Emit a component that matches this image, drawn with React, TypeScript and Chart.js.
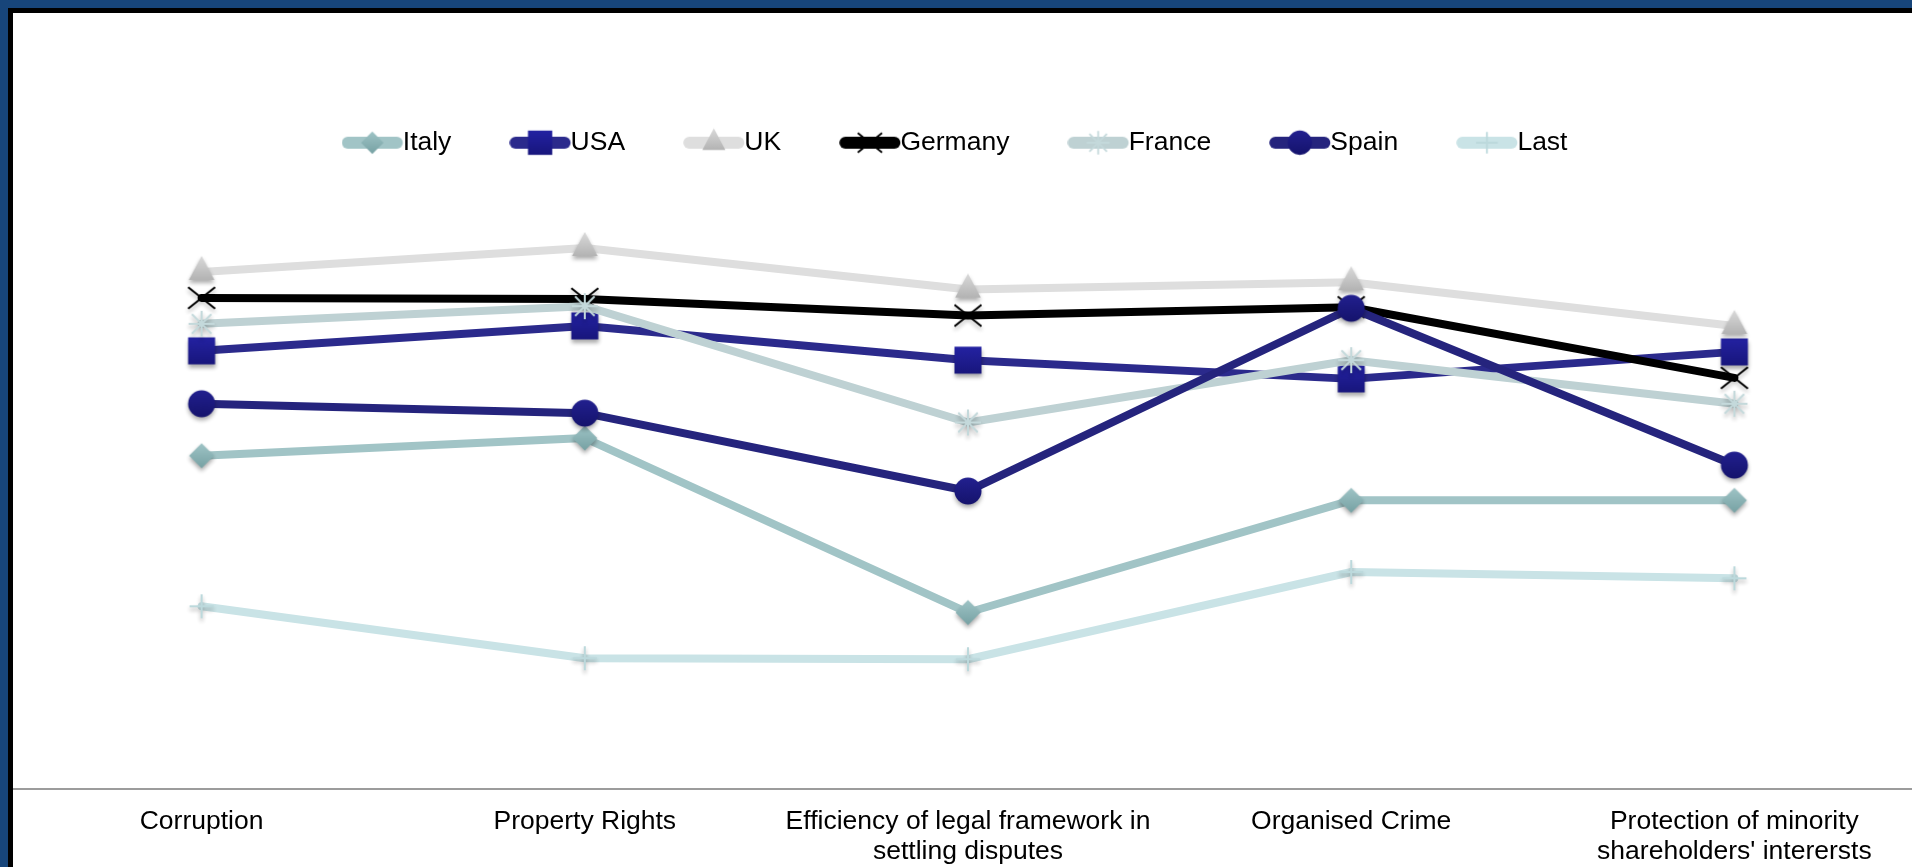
import React, { useEffect, useRef } from 'react';
import { Chart, registerables } from 'chart.js';

Chart.register(...registerables);

// ---------- data ----------
const categories: string[][] = [
  ['Corruption'],
  ['Property Rights'],
  ['Efficiency of legal framework in', 'settling disputes'],
  ['Organised Crime'],
  ['Protection of minority', "shareholders' interersts"],
];

const seriesNames = ['Italy', 'USA', 'UK', 'Germany', 'France', 'Spain', 'Last'];

const italy = [4.21, 4.38, 2.7, 3.78, 3.78];
const usa = [5.22, 5.46, 5.13, 4.95, 5.21];
const uk = [5.98, 6.21, 5.81, 5.88, 5.46];
const germany = [5.73, 5.72, 5.56, 5.64, 4.96];
const france = [5.48, 5.65, 4.53, 5.13, 4.71];
const spain = [4.71, 4.62, 3.87, 5.63, 4.12];
const last = [2.76, 2.26, 2.25, 3.09, 3.03];

const seriesValues = [italy, usa, uk, germany, france, spain, last];

const yMin = 1;
const yMax = 7;

// ---------- styles ----------
type Kind = 'diamond' | 'square' | 'triangle' | 'x' | 'star' | 'circle' | 'plus';

interface SeriesStyle {
  line: string;
  kind: Kind;
  size: number;
  fillTop: string;
  fillBottom: string;
  stroke: string;
}

const styles: SeriesStyle[] = [
  { line: '#a1c4c6', kind: 'diamond', size: 12.5, fillTop: '#9fc4c6', fillBottom: '#76a1a3', stroke: '#8db5b7' },
  { line: '#2b2a8c', kind: 'square', size: 13.5, fillTop: '#2422a2', fillBottom: '#18167c', stroke: '#1f1d8f' },
  { line: '#dedede', kind: 'triangle', size: 16, fillTop: '#dadada', fillBottom: '#a6a6a6', stroke: '#bdbdbd' },
  { line: '#000000', kind: 'x', size: 13.5, fillTop: '#000', fillBottom: '#000', stroke: '#000000' },
  { line: '#bed1d3', kind: 'star', size: 13, fillTop: '#c2d7d9', fillBottom: '#c2d7d9', stroke: '#c4d9db' },
  { line: '#25247d', kind: 'circle', size: 13.5, fillTop: '#22208f', fillBottom: '#15136c', stroke: '#1c1a7e' },
  { line: '#c9e3e6', kind: 'plus', size: 12, fillTop: '#bcd9dc', fillBottom: '#bcd9dc', stroke: '#bcd9dc' },
];

const FONT = "'Liberation Sans', Arial, Helvetica, sans-serif";

function drawMarker(ctx: CanvasRenderingContext2D, st: SeriesStyle, cx: number, cy: number, scale: number) {
  const r = st.size * scale;
  ctx.save();
  ctx.translate(cx, cy);
  const filled = st.kind === 'diamond' || st.kind === 'square' || st.kind === 'triangle' || st.kind === 'circle';
  if (filled) {
    const g = ctx.createLinearGradient(0, -r, 0, r);
    g.addColorStop(0, st.fillTop);
    g.addColorStop(1, st.fillBottom);
    ctx.fillStyle = g;
    ctx.beginPath();
    if (st.kind === 'diamond') {
      ctx.moveTo(0, -r);
      ctx.lineTo(r, 0);
      ctx.lineTo(0, r);
      ctx.lineTo(-r, 0);
      ctx.closePath();
    } else if (st.kind === 'square') {
      ctx.rect(-r, -r, 2 * r, 2 * r);
    } else if (st.kind === 'triangle') {
      const hw = r * 0.8;
      ctx.moveTo(0, -r);
      ctx.lineTo(hw, r * 0.5);
      ctx.lineTo(-hw, r * 0.5);
      ctx.closePath();
    } else {
      ctx.arc(0, 0, r, 0, Math.PI * 2);
    }
    ctx.fill();
  } else {
    ctx.strokeStyle = st.stroke;
    ctx.lineWidth = 2 * Math.max(scale, 0.8);
    ctx.lineCap = 'butt';
    ctx.beginPath();
    if (st.kind === 'x') {
      ctx.moveTo(-r, -r * 0.8);
      ctx.lineTo(r, r * 0.8);
      ctx.moveTo(-r, r * 0.8);
      ctx.lineTo(r, -r * 0.8);
    } else if (st.kind === 'star') {
      const d = r * 0.75;
      ctx.moveTo(0, -r);
      ctx.lineTo(0, r);
      ctx.moveTo(-d, -d);
      ctx.lineTo(d, d);
      ctx.moveTo(-d, d);
      ctx.lineTo(d, -d);
      ctx.moveTo(-r, 0);
      ctx.lineTo(r, 0);
    } else {
      ctx.moveTo(0, -r);
      ctx.lineTo(0, r);
      ctx.moveTo(-r, 0);
      ctx.lineTo(r, 0);
    }
    ctx.stroke();
  }
  ctx.restore();
}

function makeMarkerImage(st: SeriesStyle): HTMLCanvasElement {
  const pad = 9;
  const size = Math.ceil(2 * (st.size + pad) / 2) * 2;
  const c = document.createElement('canvas');
  c.width = size;
  c.height = size;
  const ctx = c.getContext('2d')!;
  ctx.shadowColor = 'rgba(0,0,0,0.33)';
  ctx.shadowBlur = 4;
  ctx.shadowOffsetY = 3;
  drawMarker(ctx, st, size / 2, size / 2, 1);
  return c;
}

// legend geometry
const LEGEND_FONT = 26.5;
const BOX_W = 21;
const SAMPLE_W = 61;
const LEGEND_IMG_W = 75;
const LEGEND_IMG_H = 36;

function makeLegendImage(st: SeriesStyle): HTMLCanvasElement {
  const c = document.createElement('canvas');
  c.width = LEGEND_IMG_W;
  c.height = LEGEND_IMG_H;
  const ctx = c.getContext('2d')!;
  const start = BOX_W + LEGEND_FONT / 2 - SAMPLE_W - (BOX_W / 2 - LEGEND_IMG_W / 2);
  const cy = LEGEND_IMG_H / 2;
  const lw = 12;
  ctx.strokeStyle = st.line;
  ctx.lineWidth = lw;
  ctx.lineCap = 'round';
  ctx.beginPath();
  ctx.moveTo(start + lw / 2, cy);
  ctx.lineTo(start + SAMPLE_W - lw / 2, cy);
  ctx.stroke();
  drawMarker(ctx, st, start + SAMPLE_W / 2, cy, 0.9);
  return c;
}

export default function App() {
  const canvasRef = useRef<HTMLCanvasElement | null>(null);

  useEffect(() => {
    const canvas = canvasRef.current;
    if (!canvas) return;
    const markerImgs = styles.map(makeMarkerImage);
    const legendImgs = styles.map(makeLegendImage);

    const chart = new Chart(canvas, {
      type: 'line',
      data: {
        labels: categories,
        datasets: seriesNames.map((name, i) => ({
          label: name,
          data: seriesValues[i],
          borderColor: styles[i].line,
          backgroundColor: styles[i].line,
          borderWidth: 8,
          borderCapStyle: 'round',
          borderJoinStyle: 'round',
          pointStyle: markerImgs[i] as any,
          pointRadius: 12,
          pointHoverRadius: 12,
          tension: 0,
          fill: false,
          order: seriesNames.length - i,
          clip: false as any,
        })),
      },
      options: {
        responsive: false,
        animation: false,
        devicePixelRatio: 1,
        layout: { autoPadding: false, padding: { top: 31.5, left: 0, right: 0, bottom: 0 } },
        plugins: {
          tooltip: { enabled: false },
          legend: {
            position: 'top',
            labels: {
              usePointStyle: true,
              pointStyleWidth: BOX_W,
              padding: 85,
              color: '#000',
              font: { family: FONT, size: LEGEND_FONT },
              generateLabels: (ch: any) =>
                ch.data.datasets.map((ds: any, i: number) => ({
                  text: ds.label,
                  pointStyle: legendImgs[i],
                  datasetIndex: i,
                  hidden: false,
                  fontColor: '#000',
                  lineWidth: 0,
                  strokeStyle: 'rgba(0,0,0,0)',
                  fillStyle: 'rgba(0,0,0,0)',
                })),
            },
          },
        },
        scales: {
          x: {
            type: 'category',
            offset: true,
            grid: { display: false, drawTicks: false },
            border: { display: true, color: '#9c9c9c', width: 2 },
            ticks: {
              color: '#000',
              padding: 17,
              maxRotation: 0,
              autoSkip: false,
              font: { family: FONT, size: 26.5, lineHeight: 1.15 },
            },
          },
          y: {
            display: false,
            min: yMin,
            max: yMax,
          },
        },
      },
    } as any);

    return () => {
      chart.destroy();
    };
  }, []);

  return (
    <div
      style={{
        position: 'fixed',
        left: 0,
        top: 0,
        width: 1912,
        height: 867,
        background: '#17457a',
        overflow: 'hidden',
      }}
    >
      <div style={{ position: 'absolute', left: 13, top: 13, width: 1930, height: 900, background: '#fff' }} />
      <canvas
        ref={canvasRef}
        width={1916}
        height={871}
        style={{ position: 'absolute', left: 10, top: 13, display: 'block' }}
      />
      <div style={{ position: 'absolute', left: 8, top: 8, width: 5, height: 900, background: '#000' }} />
      <div style={{ position: 'absolute', left: 8, top: 8, width: 1930, height: 5, background: '#000' }} />
    </div>
  );
}
